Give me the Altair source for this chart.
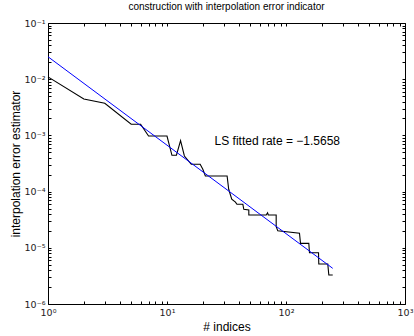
import altair as alt
import pandas as pd

# ---- data ----
idx_x = [1, 2, 3, 5, 6, 7, 10, 11, 12, 13, 14, 16, 19, 20, 21, 32, 33, 35,
         37.6, 38.7, 43.4, 44.2, 48.7, 48.7, 68.2, 70, 71, 82.7, 82.7, 85.3,
         129.8, 132.4, 155.5, 157.5, 187.6, 188.6, 224.4, 229, 247]
err_y = [0.011, 0.00445, 0.00373, 0.00158, 0.00158, 0.000976, 0.000976,
         0.000443, 0.000443, 0.000805, 0.00043, 0.000306, 0.000306, 0.000249,
         0.00019, 0.00019, 0.00011, 7.3e-5, 6.5e-5, 5.94e-5, 5.94e-5, 4.84e-5,
         4.71e-5, 3.84e-5, 3.84e-5, 4.2e-5, 3.84e-5, 3.84e-5, 2.37e-5, 2.01e-5,
         1.81e-5, 1.2e-5, 1.2e-5, 8.18e-6, 8.18e-6, 5.15e-6, 5.15e-6, 3.28e-6,
         3.28e-6]
fit_x = [1, 247]
fit_y = [0.0251, 4.31e-6]
note_x = [25.1]
note_y = [8.05e-4]
note_text = ["LS fitted rate = \u22121.5658"]

x_major = [1, 10, 100, 1000]
x_major_labels = ["10\u2070", "10\u00b9", "10\u00b2", "10\u00b3"]
y_major = [1e-6, 1e-5, 1e-4, 1e-3, 1e-2, 1e-1]
y_major_labels = ["10\u207b\u2076", "10\u207b\u2075", "10\u207b\u2074",
                  "10\u207b\u00b3", "10\u207b\u00b2", "10\u207b\u00b9"]
x_minor = [m * d for d in [1, 10, 100] for m in range(2, 10)]
y_minor = [m * d for d in [1e-6, 1e-5, 1e-4, 1e-3, 1e-2] for m in range(2, 10)]

chart_title = "construction with interpolation error indicator"
x_title = "# indices"
y_title = "interpolation error estimator"

FONT = "Liberation Sans"
LABEL_FONT = "DejaVu Sans"
TICK = 3


def label_expr(vals, labs):
    expr = "''"
    for v, l in zip(vals, labs):
        expr = f"abs(datum.value - {v!r}) < {v * 1e-6!r} ? '{l}' : " + expr
    return expr


df = pd.DataFrame({"x": idx_x, "y": err_y, "i": list(range(len(idx_x)))})
fit_df = pd.DataFrame({"x": fit_x, "y": fit_y})
note_df = pd.DataFrame({"x": note_x, "y": note_y, "t": note_text})

x_scale = alt.Scale(type="log", domain=[1, 1000], nice=False)
y_scale = alt.Scale(type="log", domain=[1e-6, 0.1], nice=False)

x_axis = alt.Axis(
    orient="bottom", values=x_major + x_minor,
    labelExpr=label_expr(x_major, x_major_labels),
    offset=-TICK, tickSize=TICK, tickColor="black", domain=False, grid=False,
    labelFont=LABEL_FONT, labelFontSize=9.5, labelColor="#222222", labelPadding=3,
    labelFlush=False, labelOverlap=False,
    title=x_title, titleFont=FONT, titleFontSize=12, titleFontWeight="normal",
    titleColor="black", titlePadding=5,
)
y_axis = alt.Axis(
    orient="left", values=y_major + y_minor,
    labelExpr=label_expr(y_major, y_major_labels),
    offset=-TICK, tickSize=TICK, tickColor="black", domain=False, grid=False,
    labelFont=LABEL_FONT, labelFontSize=9.5, labelColor="#222222", labelPadding=3,
    labelFlush=False, labelOverlap=False,
    title=y_title, titleFont=FONT, titleFontSize=12, titleFontWeight="normal",
    titleColor="black", titlePadding=2,
)
x_axis_top = alt.Axis(
    orient="top", values=x_major + x_minor, labels=False,
    offset=-TICK, tickSize=TICK, tickColor="black", domain=False, grid=False,
    title="",
)
y_axis_right = alt.Axis(
    orient="right", values=y_major + y_minor, labels=False,
    offset=-TICK, tickSize=TICK, tickColor="black", domain=False, grid=False,
    title="",
)

data_line = alt.Chart(df).mark_line(color="black", strokeWidth=1.1).encode(
    x=alt.X("x:Q", scale=x_scale, axis=x_axis),
    y=alt.Y("y:Q", scale=y_scale, axis=y_axis),
    order="i:Q",
)
note = alt.Chart(note_df).mark_text(
    align="left", baseline="middle", font=FONT, fontSize=12, color="black"
).encode(
    x=alt.X("x:Q", scale=x_scale, axis=x_axis),
    y=alt.Y("y:Q", scale=y_scale, axis=y_axis),
    text="t:N",
)
main = alt.layer(data_line, note)

fit_line = alt.Chart(fit_df).mark_line(color="#0000ff", strokeWidth=1).encode(
    x=alt.X("x:Q", scale=x_scale, axis=x_axis_top),
    y=alt.Y("y:Q", scale=y_scale, axis=y_axis_right),
)

chart = alt.layer(main, fit_line).resolve_scale(
    x="independent", y="independent"
).properties(
    width=357, height=281,
    title=alt.TitleParams(chart_title, font=FONT, fontSize=10,
                          fontWeight="normal", color="black", offset=6,
                          anchor="middle"),
    autosize=alt.AutoSizeParams(type="none"),
    padding={"left": 48, "top": 23, "right": 9, "bottom": 32},
).configure_view(stroke="black", strokeWidth=1)

chart.save("out.html", embed_options={"renderer": "svg", "actions": False})
